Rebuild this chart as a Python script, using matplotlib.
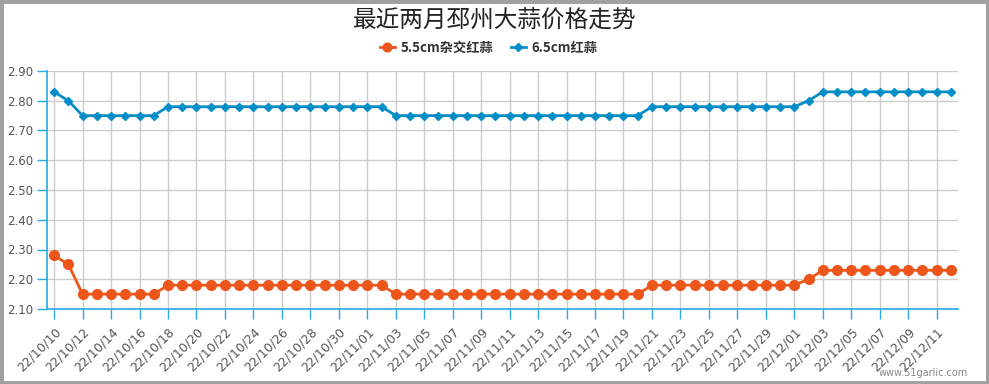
import matplotlib.pyplot as plt
import matplotlib.patches as patches
import numpy as np

plt.rcParams['font.family'] = ['Noto Sans CJK SC', 'DejaVu Sans']

dates = ['22/10/10', '22/10/11', '22/10/12', '22/10/13', '22/10/14', '22/10/15', '22/10/16', '22/10/17',
         '22/10/18', '22/10/19', '22/10/20', '22/10/21', '22/10/22', '22/10/23', '22/10/24', '22/10/25',
         '22/10/26', '22/10/27', '22/10/28', '22/10/29', '22/10/30', '22/10/31', '22/11/01', '22/11/02',
         '22/11/03', '22/11/04', '22/11/05', '22/11/06', '22/11/07', '22/11/08', '22/11/09', '22/11/10',
         '22/11/11', '22/11/12', '22/11/13', '22/11/14', '22/11/15', '22/11/16', '22/11/17', '22/11/18',
         '22/11/19', '22/11/20', '22/11/21', '22/11/22', '22/11/23', '22/11/24', '22/11/25', '22/11/26',
         '22/11/27', '22/11/28', '22/11/29', '22/11/30', '22/12/01', '22/12/02', '22/12/03', '22/12/04',
         '22/12/05', '22/12/06', '22/12/07', '22/12/08', '22/12/09', '22/12/10', '22/12/11', '22/12/12']

# 5.5cm杂交红蒜
hybrid_55 = [2.28, 2.25] + [2.15] * 6 + [2.18] * 16 + [2.15] * 18 + [2.18] * 11 + [2.20] + [2.23] * 10
# 6.5cm红蒜
red_65 = [2.83, 2.80] + [2.75] * 6 + [2.78] * 16 + [2.75] * 18 + [2.78] * 11 + [2.80] + [2.83] * 10

series_names = ['5.5cm杂交红蒜', '6.5cm红蒜']
y_ticks = [2.10, 2.20, 2.30, 2.40, 2.50, 2.60, 2.70, 2.80, 2.90]

W, H = 989, 384
fig = plt.figure(figsize=(W / 100, H / 100), dpi=100)
ax = fig.add_axes([47 / W, (H - 309) / H, (958 - 47) / W, (309 - 71) / H])

x = np.arange(len(dates))
ax.plot(x, hybrid_55, color='#ED561B', lw=2, marker='o', ms=7, label=series_names[0], zorder=3)
ax.plot(x, red_65, color='#058DC7', lw=2, marker='D', ms=4.5, label=series_names[1], zorder=3)

ax.set_xlim(-0.5, len(dates) - 0.5)
ax.set_ylim(2.10, 2.90)
ax.set_yticks(y_ticks)
ax.set_yticklabels(['%.2f' % v for v in y_ticks], fontsize=8.5, color='#555555', family='DejaVu Sans')
ax.set_xticks(x[::2])
ax.set_xticklabels(dates[::2], rotation=45, ha='right', va='top', rotation_mode='anchor',
                   fontsize=9, color='#555555', family='DejaVu Sans')

axis_color = '#27A9E1'
ax.grid(True, color='#CCCCCC', lw=1)
ax.set_axisbelow(True)
for side in ['top', 'right']:
    ax.spines[side].set_visible(False)
ax.spines['left'].set_color(axis_color)
ax.spines['bottom'].set_color(axis_color)
ax.spines['left'].set_linewidth(1.2)
ax.spines['bottom'].set_linewidth(1.2)
ax.tick_params(axis='y', color=axis_color, length=7, width=1, pad=3)
ax.tick_params(axis='x', color=axis_color, length=7, width=1, pad=5)

fig.text(0.5, 1 - 21 / H, '最近两月邳州大蒜价格走势', ha='center', va='center', fontsize=17, color='#222222')
fig.legend(loc='center', bbox_to_anchor=(0.494, 1 - 48 / H), ncol=2, frameon=False,
           prop={'size': 9.5, 'weight': 'bold'}, handlelength=1.2, columnspacing=1.3,
           handletextpad=0.4, markerscale=0.9, labelcolor='#333333')
fig.text(968 / W, 1 - 373 / H, 'www.51garlic.com', ha='right', va='center', fontsize=7, color='#888888',
         family='DejaVu Sans')

fig.patches.append(patches.Rectangle((0, 0), 1, 1, transform=fig.transFigure, fill=False,
                                     edgecolor='#A0A0A0', lw=5))

fig.savefig('out.png', dpi=100)
